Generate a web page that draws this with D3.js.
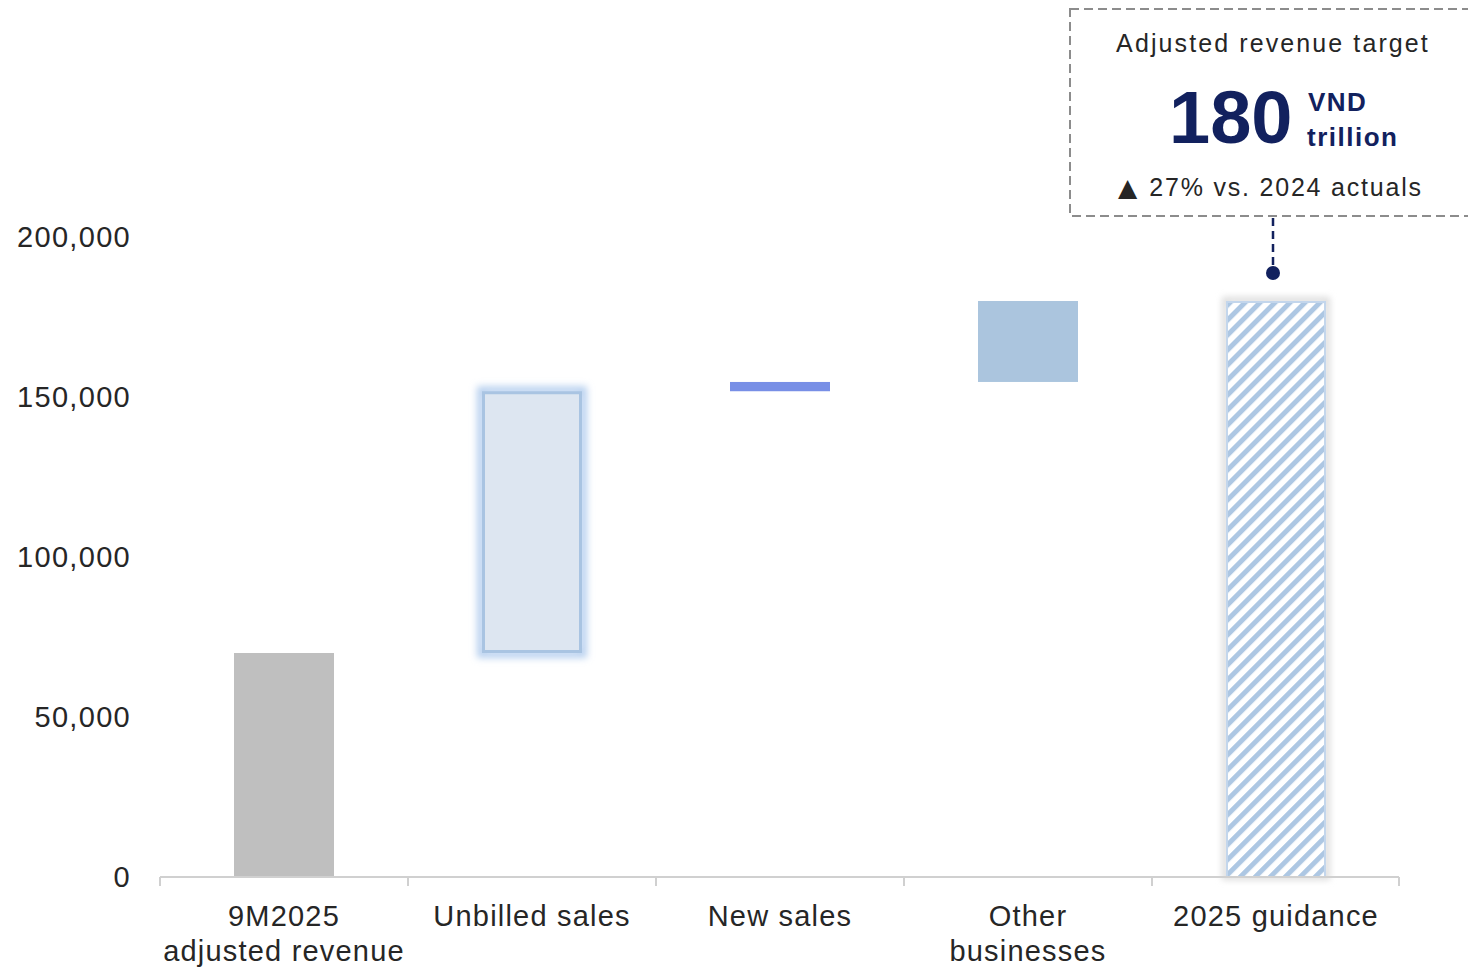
<!DOCTYPE html>
<html>
<head>
<meta charset="utf-8">
<script src="https://cdn.jsdelivr.net/npm/d3@7"></script>
<style>
  html, body { margin: 0; padding: 0; background: #fff; }
  svg { display: block; font-family: "Liberation Sans", Arial, sans-serif; }
</style>
</head>
<body>
<svg id="chart" width="1468" height="970"></svg>
<script>
// ---- data ----
const categories = ["9M2025|adjusted revenue", "Unbilled sales", "New sales", "Other|businesses", "2025 guidance"];
const barStarts = [0, 70000, 151800, 154700, 0];
const barEnds   = [70000, 151800, 154700, 180000, 180000];
const barKinds  = ["base", "unbilled", "new", "other", "target"];
const yTicks = [0, 50000, 100000, 150000, 200000];
const calloutTitle = "Adjusted revenue target";
const calloutValue = "180";
const calloutUnit1 = "VND";
const calloutUnit2 = "trillion";
const calloutArrow = "\u25B2";
const calloutNote = "27% vs. 2024 actuals";
const targetValue = 180000;

// ---- setup ----
const svg = d3.select("#chart");
const x = d3.scaleBand().domain(categories).range([160, 1400]).padding(0);
const y = d3.scaleLinear().domain([0, 200000]).range([877, 237]);
const barW = 100;

const defs = svg.append("defs");
const pat = defs.append("pattern").attr("id", "hatch").attr("patternUnits", "userSpaceOnUse")
  .attr("width", 10.6).attr("height", 10.6).attr("patternTransform", "rotate(45)");
pat.append("rect").attr("width", 10.6).attr("height", 10.6).attr("fill", "#ffffff");
pat.append("rect").attr("x", 0).attr("y", 0).attr("width", 5).attr("height", 10.6).attr("fill", "#adc7e3");

const glowBlue = defs.append("filter").attr("id", "glowBlue").attr("x", "-30%").attr("y", "-30%").attr("width", "160%").attr("height", "160%");
glowBlue.append("feGaussianBlur").attr("stdDeviation", 3.5);
const glowGray = defs.append("filter").attr("id", "glowGray").attr("x", "-30%").attr("y", "-30%").attr("width", "160%").attr("height", "160%");
glowGray.append("feGaussianBlur").attr("stdDeviation", 3);

// ---- bars ----
const data = categories.map((c, i) => ({ c, s: barStarts[i], e: barEnds[i], k: barKinds[i] }));
const bx = d => x(d.c) + x.bandwidth() / 2 - barW / 2;

const g = svg.append("g");
data.forEach(d => {
  const x0 = bx(d), yTop = y(d.e), h = y(d.s) - y(d.e);
  if (d.k === "base") {
    g.append("rect").attr("x", x0).attr("y", yTop).attr("width", barW).attr("height", h).attr("fill", "#bfbfbf");
  } else if (d.k === "unbilled") {
    g.append("rect").attr("x", x0 - 1).attr("y", yTop - 1).attr("width", barW + 2).attr("height", h + 2)
      .attr("fill", "none").attr("stroke", "#b8d0ef").attr("stroke-width", 8).attr("filter", "url(#glowBlue)");
    g.append("rect").attr("x", x0 + 1.5).attr("y", yTop + 1.5).attr("width", barW - 3).attr("height", h - 3)
      .attr("fill", "#dde6f1").attr("stroke", "#a9c4e2").attr("stroke-width", 3);
  } else if (d.k === "new") {
    g.append("rect").attr("x", x0).attr("y", yTop).attr("width", barW).attr("height", h).attr("fill", "#788fe6");
  } else if (d.k === "other") {
    g.append("rect").attr("x", x0).attr("y", yTop).attr("width", barW).attr("height", h).attr("fill", "#abc5de");
  } else {
    g.append("rect").attr("x", x0 - 1).attr("y", yTop - 1).attr("width", barW + 2).attr("height", h + 1)
      .attr("fill", "none").attr("stroke", "#dcdcdc").attr("stroke-width", 6).attr("filter", "url(#glowGray)");
    g.append("rect").attr("x", x0 + 1).attr("y", yTop + 1).attr("width", barW - 2).attr("height", h - 1)
      .attr("fill", "url(#hatch)").attr("stroke", "#c3d6ec").attr("stroke-width", 2);
  }
});

// ---- y axis ----
const yAxis = svg.append("g").attr("transform", "translate(160,0)")
  .call(d3.axisLeft(y).tickValues(yTicks).tickSize(0).tickPadding(29).tickFormat(d3.format(",")));
yAxis.select(".domain").remove();
yAxis.selectAll("text").attr("font-size", 29).attr("fill", "#262626").attr("letter-spacing", 1.3)
  .attr("font-family", "'Liberation Sans', Arial, sans-serif").attr("dy", "0.34em");

// ---- x axis ----
const xAxis = svg.append("g").attr("transform", "translate(0,877)")
  .call(d3.axisBottom(x).tickSize(0).tickPadding(0).tickFormat(""));
xAxis.select(".domain").attr("stroke", "#d0d0d0").attr("stroke-width", 2).attr("d", "M160,0H1399");
const bounds = categories.map(c => x(c)).concat([1399]);
xAxis.selectAll(".bound").data(bounds).join("line").attr("class", "bound")
  .attr("x1", d => d).attr("x2", d => d).attr("y1", 0).attr("y2", 9)
  .attr("stroke", "#d0d0d0").attr("stroke-width", 2);
xAxis.selectAll(".tick").each(function(c) {
  const t = d3.select(this).append("text").attr("text-anchor", "middle").attr("fill", "#262626")
    .attr("font-size", 29).attr("letter-spacing", 1.2).attr("font-family", "'Liberation Sans', Arial, sans-serif");
  c.split("|").forEach((line, i) => {
    t.append("tspan").attr("x", 0).attr("y", 49 + i * 35).text(line);
  });
});

// ---- callout ----
const cx = x(categories[4]) + x.bandwidth() / 2 - 3;
const co = svg.append("g");
co.append("rect").attr("x", 1070).attr("y", 9).attr("width", 420).attr("height", 207)
  .attr("fill", "#fff").attr("stroke", "#8c8c8c").attr("stroke-width", 2).attr("stroke-dasharray", "9,5");
co.append("line").attr("x1", cx).attr("x2", cx).attr("y1", 218).attr("y2", y(targetValue) - 28)
  .attr("stroke", "#12215e").attr("stroke-width", 2.5).attr("stroke-dasharray", "8,5");
co.append("circle").attr("cx", cx).attr("cy", y(targetValue) - 28).attr("r", 7).attr("fill", "#12215e");
co.append("text").attr("x", 1273).attr("y", 52).attr("text-anchor", "middle").attr("font-size", 25)
  .attr("letter-spacing", 2.1).attr("fill", "#262626").text(calloutTitle);
co.append("text").attr("x", 1169).attr("y", 143).attr("font-size", 74).attr("font-weight", "bold")
  .attr("fill", "#12215e").text(calloutValue);
co.append("text").attr("x", 1308).attr("y", 111).attr("font-size", 26).attr("font-weight", "bold")
  .attr("letter-spacing", 1.5).attr("fill", "#12215e").text(calloutUnit1);
co.append("text").attr("x", 1307).attr("y", 146).attr("font-size", 26).attr("font-weight", "bold")
  .attr("letter-spacing", 1.5).attr("fill", "#12215e").text(calloutUnit2);
const note = co.append("text").attr("x", 1118).attr("y", 196).attr("fill", "#262626");
note.append("tspan").attr("font-family", "'DejaVu Sans', sans-serif").attr("font-size", 25).text(calloutArrow);
note.append("tspan").attr("dx", 12).attr("font-size", 25).attr("letter-spacing", 1.8).text(calloutNote);
</script>
</body>
</html>
